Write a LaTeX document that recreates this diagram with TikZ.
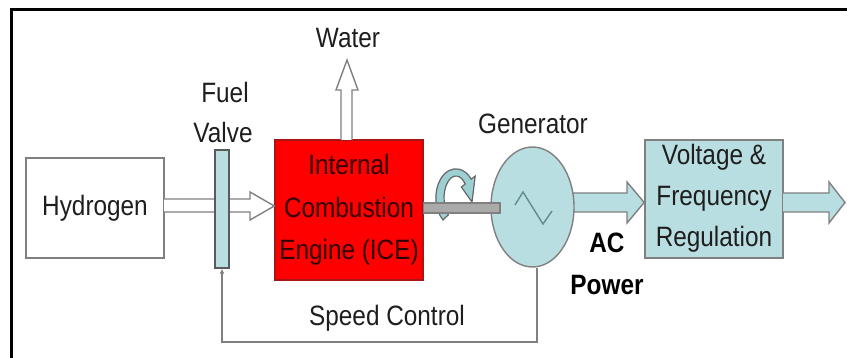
\documentclass[tikz,border=0pt]{standalone}
\usepackage{fontspec}
\setmainfont{Liberation Sans}[FakeStretch=0.87]
\usetikzlibrary{arrows.meta,calc,shapes.geometric}
\definecolor{lblue}{RGB}{185,222,225}
\definecolor{edgegray}{RGB}{128,128,128}
\definecolor{txt}{RGB}{30,30,30}
\definecolor{icered}{RGB}{255,0,0}
\definecolor{icedge}{RGB}{170,20,20}
\definecolor{icetxt}{RGB}{50,0,0}
\definecolor{shaftgray}{RGB}{170,170,170}
\definecolor{zig}{RGB}{95,140,140}
\begin{document}
\begin{tikzpicture}[x=1pt,y=-1pt,
  lbl/.style={font=\fontsize{28}{41}\selectfont, text=txt, inner sep=0pt, align=center},
  blockbox/.style={draw=edgegray, line width=1.6pt, inner sep=0pt},
  hollowarrow/.style={draw=edgegray, line width=1.4pt, fill=white, line join=miter},
  bluearrow/.style={draw=edgegray, line width=1.4pt, fill=lblue, line join=miter},
  ctrl/.style={draw=edgegray, line width=1.6pt}
]
\useasboundingbox (0,0) rectangle (847,358);
% frame (top and left edges)
\draw[black, line width=3pt] (11,358) -- (11,10) -- (847,10);

% nodes
\node[blockbox, fill=white, minimum width=138pt, minimum height=100pt] (hyd) at (95,208) {};
\node[lbl] (hydt) at (95,208) {Hydrogen};
\node[draw=icedge, line width=1.4pt, fill=icered, minimum width=148pt, minimum height=140pt, inner sep=0pt] (ice) at (349,210) {};
\node[lbl, text=icetxt, font=\fontsize{28}{42.5}\selectfont] (icet) at (349,210) {Internal\\Combustion\\Engine (ICE)};
\node[blockbox, fill=lblue, minimum width=138pt, minimum height=118pt] (vfr) at (714,199) {};
\node[lbl] (vfrt) at (714,198) {Voltage \&\\Frequency\\Regulation};

% coordinates for connectors
\coordinate (h1) at (164,199); \coordinate (h2) at (164,212);
\coordinate (w1) at (341,140); \coordinate (w2) at (352,140);
\coordinate (a1) at (566,193); \coordinate (a2) at (566,212);
\coordinate (o1) at (783,193); \coordinate (o2) at (783,212);

% hydrogen -> ICE hollow arrow
\draw[hollowarrow] (h1) -- (250,199) -- (250,192) -- (ice.west |- 0,206) -- (250,220) -- (250,212) -- (h2);
% water hollow arrow
\draw[hollowarrow] (w1) -- (341,90) -- (336,90) -- (347,60) -- (358,90) -- (352,90) -- (w2);
% AC power arrow
\draw[bluearrow] (a1) -- (627,193) -- (627,182) -- (vfr.west |- 0,202.5) -- (627,223) -- (627,212) -- (a2);
% output arrow
\draw[bluearrow] (o1) -- (829,193) -- (829,182) -- (845,202.5) -- (829,223) -- (829,212) -- (o2);

% fuel valve
\node[draw=edgegray!70!black, line width=1.4pt, fill=lblue, minimum width=14pt, minimum height=118pt, inner sep=0pt] (valve) at (222,209) {};

% generator
\node[ellipse, draw=edgegray, line width=1.4pt, fill=lblue, minimum width=83pt, minimum height=120pt, inner sep=0pt] (gen) at (532.5,207) {};
\draw[zig, line width=1.4pt, line join=miter] (515,205) -- (523,192) -- (543,224) -- (552,211);

% rotation arrow (band around shaft)
\draw[fill=lblue!85!teal, draw=edgegray!80!black, line width=1.2pt, line join=miter]
  (443,220) arc[start angle=130, end angle=320, x radius=20, y radius=29]
  -- (475.2,176.1) -- (472,202) -- (461.4,187.1) -- (465.2,183.9)
  arc[start angle=320, end angle=130, x radius=12, y radius=22] -- cycle;

% shaft
\draw[draw=edgegray, fill=shaftgray, line width=1.2pt] (ice.east |- 0,203) rectangle (500,213);

% speed control feedback
\coordinate (sc) at (537,342);
\draw[ctrl, -{Latex[length=5pt,width=5pt]}] (gen.south -| sc) -- (sc) -| (valve.south);

% labels
\node[lbl] (water) at (348,38) {Water};
\node[lbl] (fuel) at (225,92) {Fuel};
\node[lbl] (valvet) at (223,132) {Valve};
\node[lbl] (gent) at (533,124) {Generator};
\node[lbl, text=black, font=\fontsize{28}{42}\selectfont\bfseries] (ac) at (607,264) {AC\\Power};
\node[lbl] (speed) at (387,318) {Speed Control};
\end{tikzpicture}
\end{document}
